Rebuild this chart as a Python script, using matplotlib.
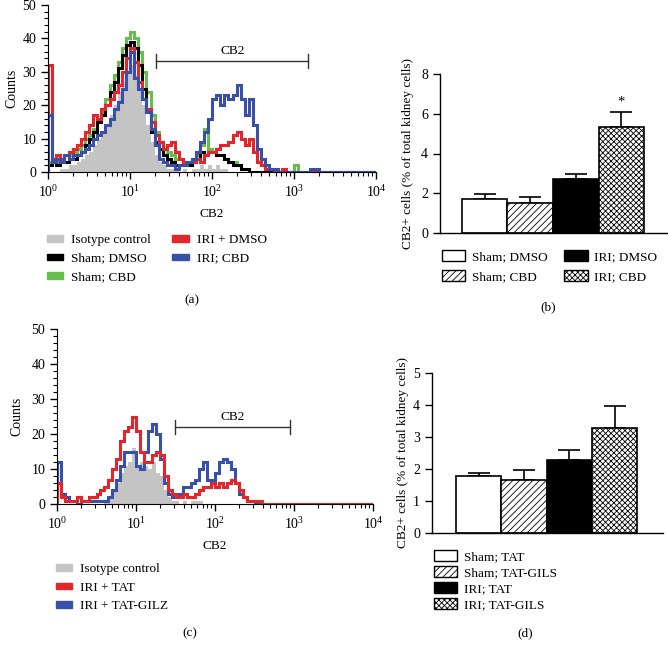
import numpy as np
import matplotlib
matplotlib.use("Agg")
import matplotlib.pyplot as plt
from matplotlib.patches import Patch
from matplotlib.ticker import MultipleLocator

plt.rcParams["font.family"] = "serif"
plt.rcParams["font.serif"] = ["Liberation Serif", "DejaVu Serif"]
plt.rcParams["mathtext.fontset"] = "stix"
plt.rcParams["font.size"] = 9.5
plt.rcParams["hatch.linewidth"] = 0.6

FS = 9.5

# ---------------- DATA ----------------
# histogram bins: 80 bins of 0.05 decade from 10^0 to 10^4
N_BINS = 80
edges = np.logspace(0, 4, N_BINS + 1)

def pad(vals):
    return np.array(vals + [0] * (N_BINS - len(vals)), dtype=float)

# panel (a) counts per bin
a_isotype = pad([0, 0, 0, 1, 1, 2, 2, 3, 4, 5,
                 6, 8, 10, 12, 14, 17, 20, 24, 27, 30,
                 32, 29, 25, 20, 14, 9, 5, 3, 2, 1,
                 1, 1, 0, 1, 0, 1, 1, 2, 1, 2,
                 1, 2, 1, 1])
a_sham_cbd = pad([3, 4, 3, 4, 5, 5, 6, 7, 8, 10,
                  11, 13, 16, 18, 22, 26, 29, 33, 37, 40,
                  42, 40, 36, 30, 24, 17, 12, 9, 7, 6,
                  5, 4, 4, 3, 3, 3, 5, 8, 13, 7,
                  6, 5, 5, 4, 3, 3, 2, 1, 1, 0,
                  0, 0, 0, 0, 0, 0, 0, 0, 0, 0,
                  2])
a_sham_dmso = pad([2, 3, 2, 3, 3, 4, 4, 5, 6, 8,
                   10, 12, 15, 17, 20, 24, 27, 31, 35, 38,
                   39, 37, 32, 25, 18, 12, 9, 7, 5, 4,
                   3, 2, 2, 2, 2, 3, 4, 6, 5, 6,
                   6, 5, 5, 4, 3, 2, 2, 1, 1])
a_iri_dmso = pad([32, 4, 5, 4, 5, 6, 7, 8, 10, 12,
                  14, 17, 16, 19, 20, 22, 24, 26, 30, 34,
                  37, 33, 27, 22, 19, 15, 11, 9, 7, 8,
                  9, 6, 4, 3, 3, 3, 4, 3, 5, 6,
                  6, 7, 8, 8, 9, 11, 12, 10, 8, 10,
                  6, 3, 2, 1, 1, 0, 0, 1])
a_iri_cbd = pad([17, 3, 4, 3, 5, 4, 5, 5, 6, 7,
                 8, 10, 11, 12, 14, 16, 19, 21, 25, 30,
                 36, 28, 25, 22, 18, 13, 8, 4, 3, 2,
                 2, 1, 2, 2, 3, 4, 6, 9, 12, 16,
                 22, 23, 20, 23, 22, 23, 26, 22, 17, 22,
                 14, 7, 4, 2, 1, 1, 0, 0, 0, 0,
                 0, 0, 0, 0, 1, 1])

# panel (c) counts per bin
c_isotype = pad([0, 0, 0, 0, 0, 0, 0, 0, 0, 0,
                 0, 0, 1, 2, 4, 6, 9, 11, 12, 16,
                 11, 12, 11, 10, 12, 9, 8, 4, 2, 1,
                 1, 0, 1, 0, 1, 1, 1])
c_iri_tat = pad([6, 2, 1, 1, 1, 2, 1, 1, 2, 2,
                 3, 4, 5, 7, 10, 13, 18, 21, 22, 25,
                 21, 15, 12, 12, 14, 15, 14, 8, 4, 3,
                 2, 2, 3, 2, 2, 3, 4, 5, 5, 6,
                 5, 6, 5, 6, 7, 6, 4, 2, 1, 1,
                 1, 1])
c_iri_tatgilz = pad([12, 3, 2, 1, 1, 0, 1, 1, 1, 1,
                     1, 1, 1, 2, 4, 7, 11, 15, 15, 15,
                     11, 10, 15, 21, 23, 20, 13, 6, 3, 2,
                     2, 3, 5, 5, 6, 7, 10, 12, 7, 7,
                     9, 12, 13, 12, 10, 6, 3, 2, 1, 1])

# gates (low, high, count level)
a_gate = (21, 1480, 33.2)
c_gate = (31, 890, 22)

# panel (b) bars
b_labels = ["Sham; DMSO", "Sham; CBD", "IRI; DMSO", "IRI; CBD"]
b_means = [1.73, 1.51, 2.71, 5.31]
b_errs = [0.25, 0.28, 0.24, 0.78]

# panel (d) bars
d_labels = ["Sham; TAT", "Sham; TAT-GILS", "IRI; TAT", "IRI; TAT-GILS"]
d_means = [1.79, 1.67, 2.29, 3.28]
d_errs = [0.10, 0.31, 0.29, 0.69]

GRAY = "#c4c4c4"
RED = "#e3262b"
BLUE = "#3950a8"
GREEN = "#66be4c"
BLACK = "#000000"

bar_faces = ["white", "white", "black", "white"]
bar_hatches = [None, "/////", None, "xxxxxx"]

W, H = 668, 651
fig = plt.figure(figsize=(W / 100, H / 100), dpi=100)


def px_axes(left, top, right, bottom):
    return fig.add_axes([left / W, 1 - bottom / H, (right - left) / W, (bottom - top) / H])


def style_hist(ax, ypad):
    ax.set_xscale("log")
    ax.set_xlim(1, 1e4)
    ax.set_ylim(0, 50)
    ax.yaxis.set_major_locator(MultipleLocator(10))
    ax.yaxis.set_minor_locator(MultipleLocator(2))
    for s in ["top", "right"]:
        ax.spines[s].set_visible(False)
    ax.tick_params(which="major", length=5, width=1, labelsize=FS + 0.5)
    ax.tick_params(which="minor", length=3, width=0.8)
    ax.set_ylabel("Counts", fontsize=FS + 0.5, labelpad=ypad)
    ax.set_xlabel("CB2", fontsize=FS, labelpad=6)


def gate(ax, lo, hi, y):
    ax.plot([lo, hi], [y, y], color="#333333", lw=1)
    ax.plot([lo, lo], [y - 2, y + 2], color="#333333", lw=1)
    ax.plot([hi, hi], [y - 2, y + 2], color="#333333", lw=1)
    ax.text(np.sqrt(lo * hi), y + 1.2, "CB2", ha="center", va="bottom", fontsize=FS)


# ---------------- (a) ----------------
ax = px_axes(48, 5, 376, 172)
ax.stairs(a_isotype, edges, fill=True, color=GRAY)
ax.stairs(a_sham_cbd, edges, color=GREEN, lw=2.2)
ax.stairs(a_sham_dmso, edges, color=BLACK, lw=2.2)
ax.stairs(a_iri_dmso, edges, color=RED, lw=2.2)
ax.stairs(a_iri_cbd, edges, color=BLUE, lw=2.2)
gate(ax, *a_gate)
style_hist(ax, 3)

hnd = [Patch(color=GRAY), Patch(color=BLACK), Patch(color=GREEN), Patch(color=RED), Patch(color=BLUE)]
lab = ["Isotype control", "Sham; DMSO", "Sham; CBD", "IRI + DMSO", "IRI; CBD"]
fig.legend(hnd, lab, loc="upper left", bbox_to_anchor=(47 / W, 1 - 234 / H), ncol=2,
           frameon=False, fontsize=FS, handlelength=1.25, handleheight=0.4,
           labelspacing=0.5, columnspacing=1.6, handletextpad=0.6, borderpad=0, borderaxespad=0)
fig.text(192 / W, 1 - 300 / H, "(a)", ha="center", va="center", fontsize=FS)

# ---------------- (c) ----------------
ax = px_axes(57, 329, 373, 504)
ax.stairs(c_isotype, edges, fill=True, color=GRAY)
ax.stairs(c_iri_tatgilz, edges, color=BLUE, lw=2.2)
ax.stairs(c_iri_tat, edges, color=RED, lw=2.2)
gate(ax, *c_gate)
style_hist(ax, 6)

hnd = [Patch(color=GRAY), Patch(color=RED), Patch(color=BLUE)]
lab = ["Isotype control", "IRI + TAT", "IRI + TAT-GILZ"]
fig.legend(hnd, lab, loc="upper left", bbox_to_anchor=(56 / W, 1 - 563 / H), ncol=1,
           frameon=False, fontsize=FS, handlelength=1.25, handleheight=0.4,
           labelspacing=0.5, handletextpad=0.6, borderpad=0, borderaxespad=0)
fig.text(190 / W, 1 - 633 / H, "(c)", ha="center", va="center", fontsize=FS)


# ---------------- bar panels ----------------
def bar_panel(ax, means, errs, ymax, xlim, pad_):
    x = np.arange(len(means))
    for i in range(len(means)):
        ax.bar(x[i], means[i], width=1.0, color=bar_faces[i], edgecolor="black",
               hatch=bar_hatches[i], lw=1.2, zorder=2)
    ax.errorbar(x, means, yerr=[np.zeros(len(errs)), errs], fmt="none", ecolor="black",
                elinewidth=1.2, capsize=8, capthick=1.2, zorder=1)
    ax.set_xlim(*xlim)
    ax.set_ylim(0, ymax)
    ax.set_xticks([])
    for s in ["top", "right"]:
        ax.spines[s].set_visible(False)
    ax.spines["left"].set_linewidth(1)
    ax.spines["bottom"].set_linewidth(1)
    ax.tick_params(axis="y", length=5, width=1, labelsize=FS + 0.5)
    ax.set_ylabel("CB2+ cells (% of total kidney cells)", fontsize=FS, labelpad=pad_)


def bar_handles():
    return [Patch(facecolor=bar_faces[i], edgecolor="black", hatch=bar_hatches[i], lw=1)
            for i in range(4)]


# (b)
ax = px_axes(440, 74, 667, 233)
bar_panel(ax, b_means, b_errs, 8, (-0.98, 4.0), 5)
ax.yaxis.set_major_locator(MultipleLocator(2))
ax.text(3, b_means[3] + b_errs[3] + 0.15, "*", ha="center", va="bottom", fontsize=FS + 1)
fig.legend(bar_handles(), b_labels, loc="upper left", bbox_to_anchor=(442 / W, 1 - 250 / H),
           ncol=2, frameon=False, fontsize=FS, handlelength=1.75, handleheight=0.85,
           labelspacing=0.55, columnspacing=1.3, handletextpad=0.5, borderpad=0, borderaxespad=0)
fig.text(548 / W, 1 - 307 / H, "(b)", ha="center", va="center", fontsize=FS)

# (d)
ax = px_axes(432, 373, 663, 533)
bar_panel(ax, d_means, d_errs, 5, (-1.03, 4.07), 3)
ax.yaxis.set_major_locator(MultipleLocator(1))
fig.legend(bar_handles(), d_labels, loc="upper left", bbox_to_anchor=(434 / W, 1 - 550 / H),
           ncol=1, frameon=False, fontsize=FS, handlelength=1.75, handleheight=0.85,
           labelspacing=0.25, handletextpad=0.5, borderpad=0, borderaxespad=0)
fig.text(525 / W, 1 - 633 / H, "(d)", ha="center", va="center", fontsize=FS)

fig.savefig("out.png", dpi=100)
